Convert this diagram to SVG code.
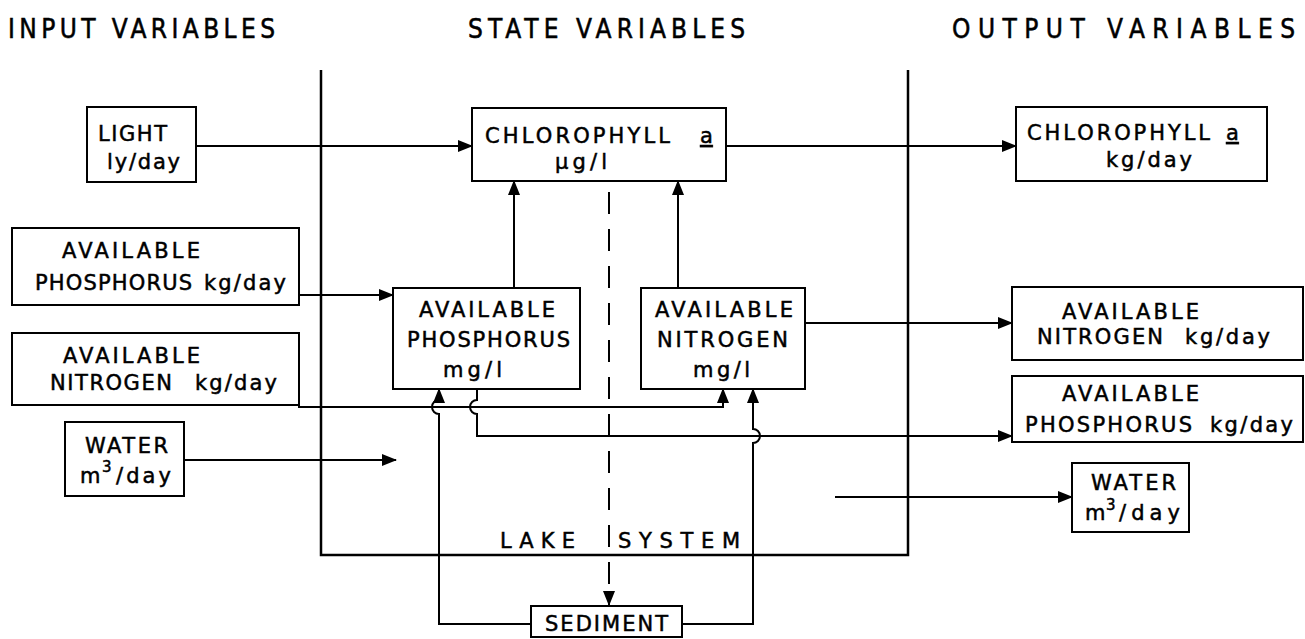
<svg xmlns="http://www.w3.org/2000/svg" width="1305" height="639" viewBox="0 0 1305 639">
<style>
.box{fill:#fff;stroke:#000;stroke-width:2}
.ln{fill:none;stroke:#000;stroke-width:2}
.arr{marker-end:url(#ah)}
.dash{stroke-dasharray:22 15}
.lake{fill:none;stroke:#000;stroke-width:2.5}
text{font-family:"DejaVu Sans","Liberation Sans",Arial,sans-serif;font-size:21px;fill:#000;stroke:#000;stroke-width:0.5}
.hd{font-family:"DejaVu Sans Condensed","DejaVu Sans",sans-serif;font-size:26px;font-stretch:condensed}
.sup{font-size:15px}
</style>
<defs>
<marker id="ah" markerWidth="15" markerHeight="12" refX="14" refY="6" orient="auto" markerUnits="userSpaceOnUse"><path d="M0,0 L15,6 L0,12 Z" fill="#000"/></marker>
</defs>
<rect width="1305" height="639" fill="#fff"/>

<g id="headers">
<text class="hd" x="8" y="38" textLength="267">INPUT VARIABLES</text>
<text class="hd" x="468" y="38" textLength="277">STATE VARIABLES</text>
<text class="hd" x="952" y="38" textLength="343">OUTPUT VARIABLES</text>
</g>

<g id="lake-system">
<path class="lake" d="M321,70 V555 H908 V70"/>
<text x="500" y="548" textLength="75">LAKE</text>
<text x="618" y="548" textLength="122">SYSTEM</text>
</g>

<g id="connectors">
<path class="ln arr" d="M196,146 H472"/>
<path class="ln arr" d="M726,146 H1016"/>
<path class="ln arr" d="M299,295 H393"/>
<path class="ln arr" d="M514,288 V181"/>
<path class="ln arr" d="M678,288 V181"/>
<path class="ln arr" d="M805,323 H1012"/>
<path class="ln arr" d="M299,405 V407 H723 V389"/>
<path class="ln arr" d="M477,389 V400 A7,7 0 0 0 477,414 V436 H1012"/>
<path class="ln arr" d="M531,624 H439 V414 A7,7 0 0 1 439,400 V389"/>
<path class="ln arr" d="M682,624 H753 V443 A7,7 0 0 0 753,429 V389"/>
<path class="ln arr" d="M184,460 H396"/>
<path class="ln arr" d="M835,497 H1072"/>
<path class="ln dash arr" d="M609,192 V605"/>
</g>

<g id="in-light">
<rect class="box" x="87" y="107" width="109" height="75"/>
<text x="98" y="141" textLength="69">LIGHT</text>
<text x="107" y="169" textLength="73">ly/day</text>
</g>

<g id="in-phosphorus">
<rect class="box" x="12" y="228" width="287" height="77"/>
<text x="62" y="258" textLength="138">AVAILABLE</text>
<text x="35" y="290" textLength="157">PHOSPHORUS</text>
<text x="204" y="290" textLength="82">kg/day</text>
</g>

<g id="in-nitrogen">
<rect class="box" x="12" y="333" width="287" height="72"/>
<text x="63" y="363" textLength="137">AVAILABLE</text>
<text x="50" y="390" textLength="122">NITROGEN</text>
<text x="195" y="390" textLength="82">kg/day</text>
</g>

<g id="in-water">
<rect class="box" x="65" y="422" width="119" height="74"/>
<text x="85" y="453" textLength="83">WATER</text>
<text x="80" y="483">m</text>
<text class="sup" x="102" y="472">3</text>
<text x="116" y="483" textLength="55">/day</text>
</g>

<g id="state-chlorophyll">
<rect class="box" x="472" y="108" width="254" height="73"/>
<text x="485" y="143" textLength="185">CHLOROPHYLL</text>
<text x="700" y="143" text-decoration="underline">a</text>
<text x="555" y="169" textLength="52">µg/l</text>
</g>

<g id="state-phosphorus">
<rect class="box" x="393" y="288" width="187" height="101"/>
<text x="419" y="317" textLength="136">AVAILABLE</text>
<text x="407" y="347" textLength="163">PHOSPHORUS</text>
<text x="443" y="377" textLength="59">mg/l</text>
</g>

<g id="state-nitrogen">
<rect class="box" x="641" y="288" width="164" height="101"/>
<text x="655" y="317" textLength="138">AVAILABLE</text>
<text x="657" y="347" textLength="131">NITROGEN</text>
<text x="693" y="377" textLength="57">mg/l</text>
</g>

<g id="sediment">
<rect class="box" x="531" y="606" width="151" height="31"/>
<text x="545" y="631" textLength="123">SEDIMENT</text>
</g>

<g id="out-chlorophyll">
<rect class="box" x="1016" y="107" width="251" height="74"/>
<text x="1027" y="140" textLength="183">CHLOROPHYLL</text>
<text x="1226" y="140" text-decoration="underline">a</text>
<text x="1106" y="167" textLength="86">kg/day</text>
</g>

<g id="out-nitrogen">
<rect class="box" x="1012" y="287" width="291" height="73"/>
<text x="1062" y="319" textLength="137">AVAILABLE</text>
<text x="1037" y="344" textLength="126">NITROGEN</text>
<text x="1185" y="344" textLength="85">kg/day</text>
</g>

<g id="out-phosphorus">
<rect class="box" x="1012" y="376" width="291" height="66"/>
<text x="1062" y="401" textLength="137">AVAILABLE</text>
<text x="1025" y="432" textLength="167">PHOSPHORUS</text>
<text x="1210" y="432" textLength="83">kg/day</text>
</g>

<g id="out-water">
<rect class="box" x="1072" y="463" width="117" height="69"/>
<text x="1091" y="490" textLength="85">WATER</text>
<text x="1085" y="520">m</text>
<text class="sup" x="1106" y="510">3</text>
<text x="1119" y="520" textLength="61">/day</text>
</g>
</svg>
